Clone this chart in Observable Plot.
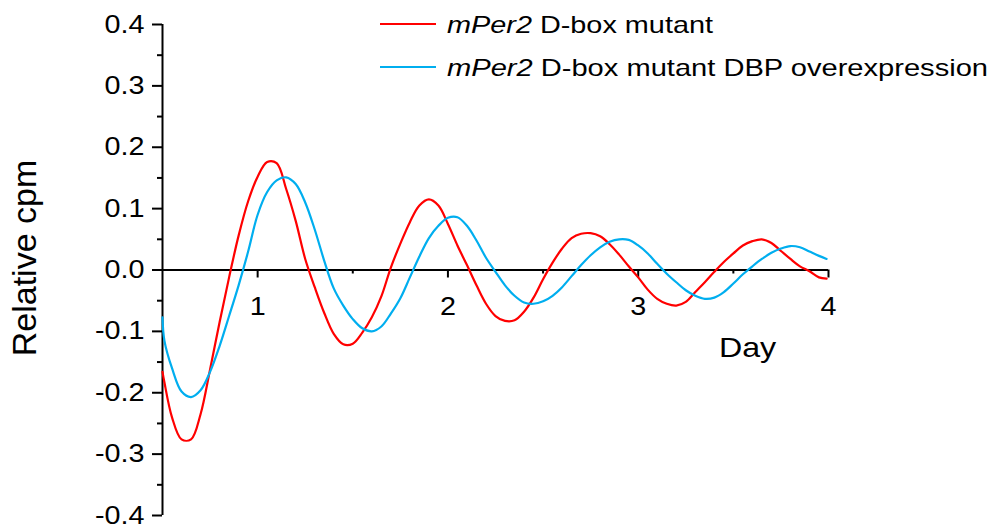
<!DOCTYPE html>
<html>
<head>
<meta charset="utf-8">
<script src="https://cdn.jsdelivr.net/npm/d3@7"></script>
<script src="https://cdn.jsdelivr.net/npm/@observablehq/plot@0.6"></script>
<style>
  body { margin: 0; background: #fff; }
  #chart { position: relative; width: 995px; height: 529px; }
  svg text { white-space: pre; }
</style>
</head>
<body>
<div id="chart"></div>
<script>
// ---------- data ----------
const day = [0.50, 0.51, 0.55, 0.60, 0.65, 0.70, 0.75, 0.80, 0.85, 0.90, 0.95,
  1.00, 1.05, 1.10, 1.15, 1.20, 1.25, 1.30, 1.35, 1.40, 1.45,
  1.50, 1.55, 1.60, 1.65, 1.70, 1.75, 1.80, 1.85, 1.90, 1.95,
  2.00, 2.05, 2.10, 2.15, 2.20, 2.25, 2.30, 2.35, 2.40, 2.45,
  2.50, 2.55, 2.60, 2.65, 2.70, 2.75, 2.80, 2.85, 2.90, 2.95,
  3.00, 3.05, 3.10, 3.15, 3.20, 3.25, 3.30, 3.35, 3.40, 3.45,
  3.50, 3.55, 3.60, 3.65, 3.70, 3.75, 3.80, 3.85, 3.90, 3.95, 3.99];

const dboxMutant = [-0.166, -0.183, -0.240, -0.276, -0.276, -0.235, -0.162, -0.085, -0.012, 0.056, 0.112,
  0.152, 0.176, 0.174, 0.132, 0.080, 0.018, -0.028, -0.070, -0.104, -0.121,
  -0.120, -0.102, -0.077, -0.043, 0.004, 0.043, 0.078, 0.105, 0.115, 0.105,
  0.075, 0.040, 0.008, -0.025, -0.055, -0.075, -0.083, -0.082, -0.068, -0.045,
  -0.015, 0.012, 0.035, 0.052, 0.059, 0.060, 0.055, 0.042, 0.025, 0.006,
  -0.012, -0.032, -0.047, -0.055, -0.058, -0.052, -0.036, -0.020, -0.003, 0.013,
  0.027, 0.040, 0.047, 0.050, 0.044, 0.031, 0.018, 0.006, -0.002, -0.012, -0.014];

const dboxMutantDBP = [-0.077, -0.115, -0.160, -0.198, -0.207, -0.196, -0.166, -0.124, -0.075, -0.025, 0.030,
  0.090, 0.127, 0.146, 0.151, 0.140, 0.110, 0.066, 0.015, -0.030, -0.058,
  -0.080, -0.095, -0.100, -0.092, -0.071, -0.046, -0.012, 0.022, 0.052, 0.072,
  0.085, 0.086, 0.072, 0.048, 0.020, -0.003, -0.025, -0.042, -0.053, -0.055,
  -0.051, -0.042, -0.028, -0.010, 0.008, 0.024, 0.037, 0.046, 0.050, 0.049,
  0.040, 0.027, 0.010, -0.006, -0.020, -0.033, -0.042, -0.047, -0.045, -0.036,
  -0.022, -0.007, 0.006, 0.018, 0.028, 0.035, 0.039, 0.037, 0.030, 0.023, 0.018];

const seriesNames = ["mPer2 D-box mutant", "mPer2 D-box mutant DBP overexpression"];
const legendItalic = ["mPer2", "mPer2"];
const legendRest = [" D-box mutant", " D-box mutant DBP overexpression"];
const seriesColors = ["#ff0000", "#00aeef"];

const xDomain = [0.5, 4];
const yDomain = [-0.4, 0.4];
const xTicks = [1, 2, 3, 4];
const xTickLabels = ["1", "2", "3", "4"];
const xMinorTicks = [1.5, 2.5, 3.5];
const yTicks = [-0.4, -0.3, -0.2, -0.1, 0, 0.1, 0.2, 0.3, 0.4];
const yTickLabels = ["-0.4", "-0.3", "-0.2", "-0.1", "0.0", "0.1", "0.2", "0.3", "0.4"];
const yMinorTicks = [-0.35, -0.25, -0.15, -0.05, 0.05, 0.15, 0.25, 0.35];
const xLabel = "Day";
const yLabel = "Relative cpm";

// ---------- build ----------
const FONT = "'Liberation Sans', Arial, Helvetica, sans-serif";
const rows = [];
seriesNames.forEach((name, s) => {
  const vals = s === 0 ? dboxMutant : dboxMutantDBP;
  day.forEach((d, i) => rows.push({day: d, value: vals[i], series: name}));
});

const svg = Plot.plot({
  width: 995,
  height: 529,
  marginLeft: 162,
  marginRight: 167,
  marginTop: 24,
  marginBottom: 14,
  style: {fontFamily: FONT, color: "#000", background: "#fff", overflow: "visible"},
  x: {domain: xDomain, axis: null},
  y: {domain: yDomain},
  color: {domain: seriesNames, range: seriesColors},
  marks: [
    // y axis
    Plot.ruleX([xDomain[0]], {x: d => d, strokeWidth: 2}),
    Plot.axisY({ticks: yTicks, tickSize: 10, tickPadding: 8, strokeWidth: 2,
      tickFormat: d => yTickLabels[yTicks.indexOf(d)], fontSize: 25, label: null}),
    Plot.axisY({ticks: yMinorTicks, tickSize: 5, strokeWidth: 2, fill: "none", label: null}),
    // x axis drawn at y = 0
    Plot.ruleY([0], {strokeWidth: 2}),
    Plot.ruleX(xTicks, {x: d => d, y1: 0, y2: 0, insetTop: 0, insetBottom: -8, strokeWidth: 2}),
    Plot.ruleX(xMinorTicks, {x: d => d, y1: 0, y2: 0, insetTop: 0, insetBottom: -4, strokeWidth: 2}),
    Plot.text(xTicks, {x: d => d, y: 0, dy: 37, text: (d, i) => xTickLabels[i], fontSize: 25}),
    // axis titles
    Plot.text([xLabel], {text: d => d, frameAnchor: "top-left", dx: 585, dy: 324,
      textAnchor: "middle", lineAnchor: "middle", fontSize: 28}),
    Plot.text([yLabel], {text: d => d, frameAnchor: "left", dx: -137, dy: -12, rotate: -90,
      textAnchor: "middle", lineAnchor: "middle", fontSize: 34}),
    // series
    Plot.line(rows, {x: "day", y: "value", stroke: "series", z: "series",
      strokeWidth: 2.2, curve: "catmull-rom"})
  ]
});

document.getElementById("chart").append(svg);

// the reference text is horizontally widened; widen glyphs the same way
const STRETCH = 1.15;
svg.querySelectorAll("text").forEach(t => {
  if (t.textContent === yLabel) return;
  const len = t.getComputedTextLength();
  if (len > 0) {
    t.setAttribute("textLength", (len * STRETCH).toFixed(2));
    t.setAttribute("lengthAdjust", "spacingAndGlyphs");
  }
});

// legend (inside the chart, top right)
const legendY = [24, 67];
const legendWidths = [266, 541];
const lg = d3.select(svg).append("g")
  .attr("font-family", FONT).attr("font-size", 24).attr("fill", "#000")
  .attr("text-anchor", "start");
seriesNames.forEach((name, i) => {
  lg.append("line")
    .attr("x1", 380).attr("x2", 436)
    .attr("y1", legendY[i]).attr("y2", legendY[i])
    .attr("stroke", seriesColors[i]).attr("stroke-width", 2.2);
  const t = lg.append("text")
    .attr("x", 447).attr("y", legendY[i]).attr("dy", "0.36em")
    .attr("text-anchor", "start")
    .attr("textLength", legendWidths[i]).attr("lengthAdjust", "spacingAndGlyphs");
  t.append("tspan").attr("font-style", "italic").text(legendItalic[i]);
  t.append("tspan").text(legendRest[i]);
});
</script>
</body>
</html>
